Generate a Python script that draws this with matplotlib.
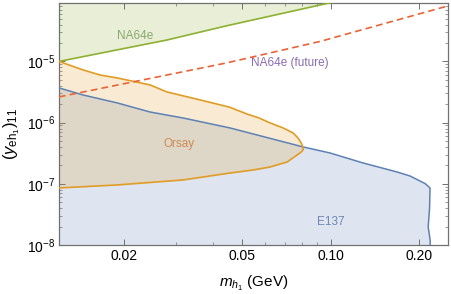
import matplotlib
matplotlib.use("Agg")
import matplotlib.pyplot as plt
from matplotlib.ticker import LogLocator, FixedLocator, FixedFormatter, NullFormatter

# ---- data ----
na64_x = [0.012, 0.0279, 0.0442, 0.0988, 0.25]
na64_y = [1.0e-5, 2.24e-5, 3.8e-5, 9.0e-5, 2.4e-4]

fut_x = [0.012, 0.0442, 0.0921, 0.25]
fut_y = [2.63e-6, 9.4e-6, 2.12e-5, 8.07e-5]

orsay_up_x = [0.012, 0.01447, 0.01653, 0.01888, 0.02443, 0.02786, 0.03607, 0.0456,
              0.0478, 0.0521, 0.0572, 0.0623, 0.0690, 0.0746, 0.0775, 0.0796, 0.0805, 0.0808]
orsay_up_y = [1.0e-5, 7.26e-6, 6.0e-6, 5.37e-6, 4.13e-6, 3.17e-6, 2.35e-6, 1.78e-6,
              1.62e-6, 1.38e-6, 1.19e-6, 9.9e-7, 8.18e-7, 6.78e-7, 5.61e-7, 4.6e-7, 4.0e-7, 3.65e-7]
orsay_lo_x = [0.0800, 0.0788, 0.0712, 0.0623, 0.0546, 0.0456, 0.0316, 0.01888, 0.012]
orsay_lo_y = [3.4e-7, 3.2e-7, 2.27e-7, 1.88e-7, 1.68e-7, 1.50e-7, 1.155e-7, 9.57e-8, 8.55e-8]

e137_x = [0.012, 0.01447, 0.01888, 0.02443, 0.0316, 0.0456, 0.0807, 0.0995, 0.1288,
          0.168, 0.186, 0.204, 0.209, 0.2173, 0.2165, 0.2142, 0.2175, 0.2175]
e137_y = [3.69e-6, 2.83e-6, 2.10e-6, 1.49e-6, 1.19e-6, 8.18e-7, 4.0e-7, 3.19e-7, 2.19e-7,
          1.56e-7, 1.34e-7, 1.07e-7, 1.01e-7, 8.55e-8, 4.0e-8, 1.97e-8, 1.2e-8, 1.0e-8]

xlim = (0.012, 0.25)
ylim = (1e-8, 9.0e-5)

x_major = [0.02, 0.05, 0.10, 0.20]
x_major_labels = ["0.02", "0.05", "0.10", "0.20"]
y_major = [1e-8, 1e-7, 1e-6, 1e-5]
y_major_labels = [r"$10^{-8}$", r"$10^{-7}$", r"$10^{-6}$", r"$10^{-5}$"]

# ---- styling ----
plt.rcParams['font.family'] = ['Liberation Sans', 'DejaVu Sans']
plt.rcParams['mathtext.fontset'] = 'custom'
plt.rcParams['mathtext.rm'] = 'Liberation Sans'
plt.rcParams['mathtext.it'] = 'Liberation Sans:italic'

blue = '#5e81b5'
orange = '#e19c24'
green = '#8fb032'
red = '#eb6235'
frame = '#707070'

fig = plt.figure(figsize=(4.52, 2.94), dpi=100)
ax = fig.add_axes([59/452, 1 - 245/294, (448-59)/452, (245-3)/294])
ax.set_xscale('log')
ax.set_yscale('log')
ax.set_xlim(*xlim)
ax.set_ylim(*ylim)

# fills
ax.fill_between(na64_x, na64_y, 1e-3, color=green, alpha=0.2, lw=0, zorder=1)
bx = e137_x + [0.012]
by = e137_y + [1e-8]
ax.fill(bx, by, color=blue, alpha=0.2, lw=0, zorder=1)
ox = orsay_up_x + orsay_lo_x
oy = orsay_up_y + orsay_lo_y
ax.fill(ox, oy, color=orange, alpha=0.2, lw=0, zorder=2)

# lines
ax.plot(na64_x, na64_y, color=green, lw=1.2, zorder=3)
ax.plot(e137_x, e137_y, color=blue, lw=1.1, zorder=3)
ax.plot(ox, oy, color=orange, lw=1.2, zorder=3, solid_joinstyle='round')
ax.plot(fut_x, fut_y, color=red, lw=1.2, ls=(0, (4, 2.5)), zorder=4)

# labels
ax.text(0.0218, 2.6e-5, "NA64e", color='#8aa86e', fontsize=8.5, ha='center', va='center')
ax.text(0.0725, 9.3e-6, "NA64e (future)", color='#8a6cb3', fontsize=8.5, ha='center', va='center')
ax.text(0.0307, 4.4e-7, "Orsay", color='#cf8a52', fontsize=8.5, ha='center', va='center')
ax.text(0.100, 2.4e-8, "E137", color='#6f86b3', fontsize=8.5, ha='center', va='center')

# ticks
ax.xaxis.set_major_locator(FixedLocator(x_major))
ax.xaxis.set_major_formatter(FixedFormatter(x_major_labels))
ax.xaxis.set_minor_locator(LogLocator(base=10, subs=range(1, 10)))
ax.xaxis.set_minor_formatter(NullFormatter())
ax.yaxis.set_major_locator(FixedLocator(y_major))
ax.yaxis.set_major_formatter(FixedFormatter(y_major_labels))
ax.yaxis.set_minor_locator(LogLocator(base=10, subs=range(2, 10)))
ax.yaxis.set_minor_formatter(NullFormatter())
ax.tick_params(which='both', direction='in', top=True, right=True, color=frame, labelsize=10)
ax.tick_params(which='major', length=4, width=0.7, pad=3)
ax.tick_params(which='minor', length=2, width=0.5)
for s in ax.spines.values():
    s.set_color(frame)
    s.set_linewidth(0.9)

ax.set_xlabel(r"$m_{h_1}$ (GeV)", fontsize=11)
ax.xaxis.set_label_coords(0.5, -0.118)
ax.set_ylabel(r"$(y_{\mathrm{eh}_1})_{11}$", fontsize=12)
ax.yaxis.set_label_coords(-0.094, 0.46)

fig.savefig("out.png", dpi=100)
